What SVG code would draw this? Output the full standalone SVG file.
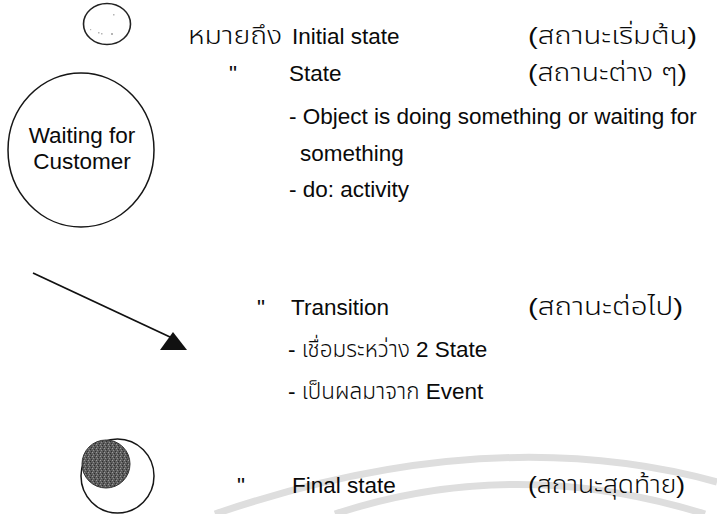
<svg xmlns="http://www.w3.org/2000/svg" width="717" height="514" viewBox="0 0 717 514">
  <defs>
    <style>
      .t{font-family:"Liberation Sans","Noto Sans Thai","Noto Sans Thai UI","Loma","Garuda","Noto Sans",sans-serif;font-size:22.5px;fill:#0a0a0a}
      .th{font-size:24.5px;font-weight:300}
      .lt{font-weight:300}
      .node-line{fill:none;stroke:#161616;stroke-width:1.5}
      .wm{fill:none;stroke:#dedede;stroke-width:7}
      .conn{fill:none;stroke:#111;stroke-width:1.8}
    </style>
    <!-- grainy dark fill for the final-state dot -->
    <pattern id="grain" width="4" height="4" patternUnits="userSpaceOnUse">
      <rect width="4" height="4" fill="#5c5c5c"/>
      <rect x="0" y="0" width="1" height="1" fill="#9a9a9a"/>
      <rect x="2" y="1" width="1" height="1" fill="#2e2e2e"/>
      <rect x="1" y="2" width="1" height="1" fill="#8c8c8c"/>
      <rect x="3" y="3" width="1" height="1" fill="#333"/>
    </pattern>
  </defs>

  <rect width="717" height="514" fill="#fff"/>

  <!-- faint seal arcs along the bottom edge -->
  <g id="seal">
    <path class="wm" d="M215 514 Q490 420 717 482"/>
    <path class="wm" d="M335 514 Q515 455 705 514"/>
  </g>

  <!-- initial state -->
  <g id="initial">
    <ellipse cx="107" cy="24" rx="23.5" ry="20.5" fill="#fff" stroke="#222" stroke-width="1.6"/>
    <g fill="#b5b5b5">
      <rect x="98" y="32" width="1.5" height="1.5"/>
      <rect x="101" y="33" width="1.5" height="1.5"/>
      <rect x="111" y="33" width="2" height="2"/>
      <rect x="113" y="14" width="1.5" height="1.5"/>
      <rect x="90" y="29" width="1.2" height="1.2"/>
    </g>
  </g>

  <!-- state -->
  <g id="waiting">
    <ellipse class="node-line" cx="81" cy="150" rx="73" ry="77"/>
    <text class="t" x="82" y="143" text-anchor="middle" font-size="19.5">Waiting for</text>
    <text class="t" x="82" y="169" text-anchor="middle" font-size="19.5">Customer</text>
  </g>

  <!-- final state -->
  <g id="final">
    <ellipse class="node-line" cx="117.5" cy="476" rx="36.5" ry="37"/>
    <circle cx="106" cy="464" r="24" fill="url(#grain)" stroke="#333" stroke-width="1"/>
  </g>

  <!-- transition arrow -->
  <g id="connectors">
    <line class="conn" x1="33" y1="273" x2="170" y2="337"/>
    <polygon points="173,332 160,350 187,350" fill="#111"/>
  </g>

  <!-- legend texts -->
  <g id="legend">
    <text class="t th" x="188" y="44" textLength="94" lengthAdjust="spacingAndGlyphs">หมายถึง</text>
    <text class="t" x="292" y="44">Initial state</text>
    <text class="t th" x="528" y="44" textLength="169" lengthAdjust="spacingAndGlyphs">(สถานะเริ่มต้น)</text>

    <text class="t" x="229" y="81">"</text>
    <text class="t" x="289" y="81">State</text>
    <text class="t th" x="528" y="81" textLength="159" lengthAdjust="spacingAndGlyphs">(สถานะต่าง ๆ)</text>

    <text class="t" x="289" y="124">- Object is doing something or waiting for</text>
    <text class="t" x="300" y="161">something</text>
    <text class="t" x="289" y="197">- do: activity</text>

    <text class="t" x="257" y="315">"</text>
    <text class="t" x="291" y="315">Transition</text>
    <text class="t th" x="528" y="315" textLength="155" lengthAdjust="spacingAndGlyphs">(สถานะต่อไป)</text>
    <text class="t" x="288" y="357"><tspan class="lt">- เชื่อมระหว่าง </tspan>2 State</text>
    <text class="t" x="288" y="399"><tspan class="lt">- เป็นผลมาจาก </tspan>Event</text>

    <text class="t" x="237" y="493">"</text>
    <text class="t" x="292" y="493">Final state</text>
    <text class="t th" x="528" y="493" textLength="157" lengthAdjust="spacingAndGlyphs">(สถานะสุดท้าย)</text>
  </g>
</svg>
